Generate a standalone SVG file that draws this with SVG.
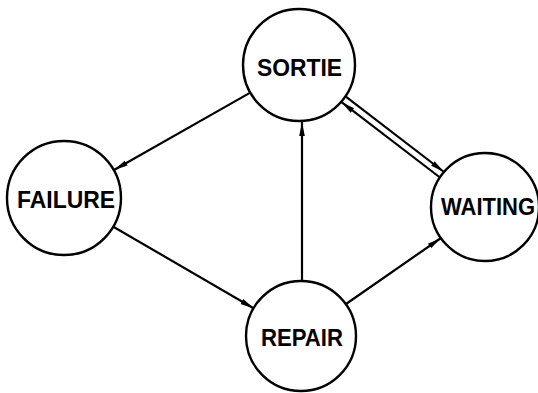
<svg xmlns="http://www.w3.org/2000/svg" width="538" height="393" viewBox="0 0 538 393">
<defs>
<style>
.node circle{fill:#fff;stroke:#000;stroke-width:2.4}
.node text{font-family:"Liberation Sans",Arial,sans-serif;font-weight:bold;font-size:23px;text-anchor:middle;fill:#000}
.edge{stroke:#000;stroke-width:2.2;fill:none;marker-end:url(#ah)}
</style>
<marker id="ah" markerUnits="userSpaceOnUse" viewBox="0 0 15 8" refX="14" refY="4" markerWidth="15" markerHeight="8" orient="auto">
<path d="M0,1.2 L14,4 L0,6.8 Z" fill="#000"/>
</marker>
</defs>
<rect width="538" height="393" fill="#fff"/>
<g id="connectors">
<line class="edge" x1="250.3" y1="92.6" x2="114" y2="170"/>
<line class="edge" x1="113.3" y1="226.7" x2="254" y2="308.5"/>
<line class="edge" x1="302" y1="281" x2="302" y2="122"/>
<line class="edge" x1="346" y1="304" x2="441" y2="238"/>
<line class="edge" x1="345.5" y1="96.3" x2="444" y2="172"/>
<line class="edge" x1="440" y1="177.5" x2="341.3" y2="101.9"/>
</g>
<g id="SORTIE" class="node"><circle cx="299" cy="65" r="56"/><text x="299.5" y="76" textLength="85" lengthAdjust="spacingAndGlyphs">SORTIE</text></g>
<g id="FAILURE" class="node"><circle cx="64" cy="198" r="57"/><text x="66" y="208" textLength="98" lengthAdjust="spacingAndGlyphs">FAILURE</text></g>
<g id="REPAIR" class="node"><circle cx="301" cy="336" r="55"/><text x="302" y="346" textLength="82" lengthAdjust="spacingAndGlyphs">REPAIR</text></g>
<g id="WAITING" class="node"><circle cx="485" cy="207" r="54"/><text x="488" y="215" textLength="94" lengthAdjust="spacingAndGlyphs">WAITING</text></g>
</svg>
